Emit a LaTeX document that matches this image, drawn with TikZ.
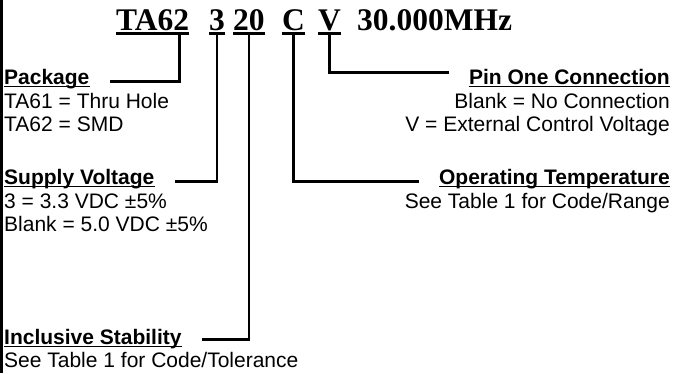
\documentclass[tikz,border=0pt]{standalone}
\usepackage{fontspec}
\setmainfont{Liberation Sans}
\newfontfamily\codefont{Liberation Serif}
\begin{document}
\begin{tikzpicture}[x=1pt, y=-1pt,
    code/.style={font=\codefont\fontsize{31.5}{36}\selectfont\bfseries, inner sep=0pt, anchor=base west},
    head/.style={font=\fontsize{21}{24}\selectfont\bfseries, inner sep=0pt},
    body/.style={font=\fontsize{21}{24}\selectfont, inner sep=0pt},
    link/.style={line width=2.8pt},
    codeline/.style={line width=3pt},
    headline/.style={line width=1.8pt}]
  \useasboundingbox (0,0) rectangle (678,373);
  \draw[line width=2.7pt] (1.35,0) -- (1.35,373);

  % part number
  \node (pkgcode) at (116,30) [code] {TA62};
  \node (voltcode) at (209,30) [code] {3};
  \node (stabcode) at (233,30) [code] {20};
  \node (tempcode) at (282,30) [code] {C};
  \node (pincode) at (318,30) [code] {V};
  \node (freq) at (357,30) [code] {30.000MHz};
  \foreach \n in {pkgcode,voltcode,stabcode,tempcode,pincode}
    \draw[codeline] ([yshift=-3.5pt]\n.base west) -- ([yshift=-3.5pt]\n.base east);

  % left side
  \node (pkg) at (4,84) [head, anchor=base west] {Package};
  \node (pkga) at (4,108) [body, anchor=base west] {TA61 = Thru Hole};
  \node (pkgb) at (4,131) [body, anchor=base west] {TA62 = SMD};
  \node (volt) at (4,184) [head, anchor=base west] {Supply Voltage};
  \node (volta) at (4,208) [body, anchor=base west] {3 = 3.3 VDC ±5\%};
  \node (voltb) at (4,231) [body, anchor=base west] {Blank = 5.0 VDC ±5\%};
  \node (stab) at (4,344) [head, anchor=base west] {Inclusive Stability};
  \node (staba) at (4,367) [body, anchor=base west] {See Table 1 for Code/Tolerance};

  % right side
  \node (pin) at (670,84) [head, anchor=base east] {Pin One Connection};
  \node (pina) at (670,108) [body, anchor=base east] {Blank = No Connection};
  \node (pinb) at (670,131) [body, anchor=base east] {V = External Control Voltage};
  \node (temp) at (670,184) [head, anchor=base east] {Operating Temperature};
  \node (tempa) at (670,208) [body, anchor=base east] {See Table 1 for Code/Range};

  \foreach \n in {pkg,volt,stab,pin,temp}
    \draw[headline] ([yshift=-2.5pt]\n.base west) -- ([yshift=-2.5pt]\n.base east);

  % connectors
  \draw[link] ([xshift=-10pt,yshift=-3.5pt]pkgcode.base east) |- ([xshift=20pt]pkg.mid east);
  \draw[link] ([yshift=-3.5pt]voltcode.base) |- ([xshift=20pt]volt.mid east);
  \draw[link] ([yshift=-3.5pt]stabcode.base) |- ([xshift=20pt,yshift=2pt]stab.mid east);
  \draw[link] ([yshift=-3.5pt]tempcode.base) |- ([xshift=-20pt]temp.mid west);
  \draw[link] ([yshift=-3.5pt]pincode.base) |- ([xshift=-20pt,yshift=9pt]pin.mid west);
\end{tikzpicture}
\end{document}
